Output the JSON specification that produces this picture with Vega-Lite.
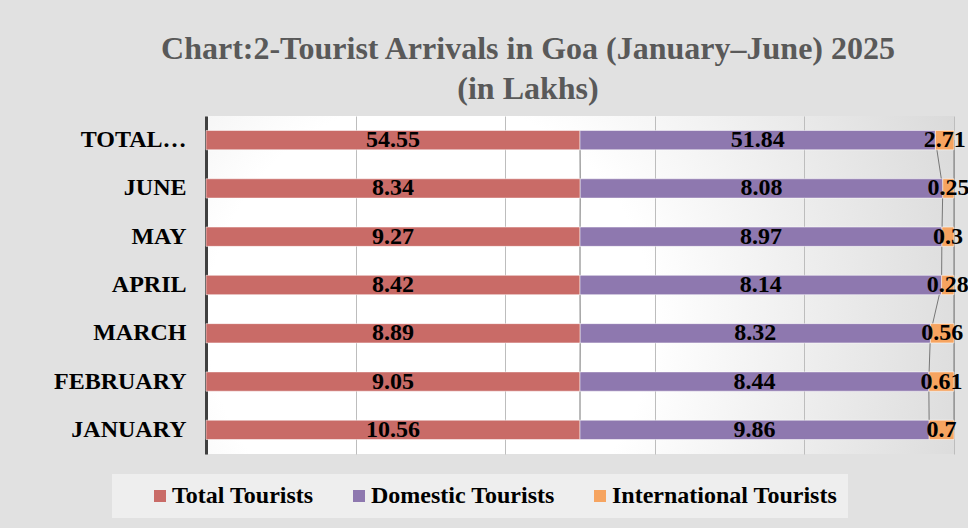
{
  "$schema": "https://vega.github.io/schema/vega-lite/v6.json",
  "autosize": "none",
  "width": 748,
  "height": 338,
  "padding": {"left": 206, "top": 116, "right": 14, "bottom": 74},
  "background": "#e1e1e1",
  "title": {
    "text": ["Chart:2-Tourist Arrivals in Goa (January–June) 2025", "(in Lakhs)"],
    "font": "Liberation Serif",
    "fontSize": 32,
    "fontWeight": "bold",
    "color": "#595959",
    "lineHeight": 40,
    "anchor": "middle",
    "dx": -52,
    "offset": 10
  },
  "config": {
    "font": "Liberation Serif",
    "view": {
      "stroke": null,
      "fill": {
        "gradient": "radial",
        "x1": 0.3, "y1": 0.55, "r1": 0,
        "x2": 0.3, "y2": 0.55, "r2": 0.85,
        "stops": [
          {"offset": 0, "color": "#ffffff"},
          {"offset": 0.35, "color": "#ffffff"},
          {"offset": 1, "color": "#d2d2d2"}
        ]
      }
    }
  },
  "data": {
    "values": [
      {"month": "TOTAL", "series": "Total Tourists", "k": 1, "value": 54.55},
      {"month": "TOTAL", "series": "Domestic Tourists", "k": 2, "value": 51.84},
      {"month": "TOTAL", "series": "International Tourists", "k": 3, "value": 2.71},
      {"month": "JUNE", "series": "Total Tourists", "k": 1, "value": 8.34},
      {"month": "JUNE", "series": "Domestic Tourists", "k": 2, "value": 8.08},
      {"month": "JUNE", "series": "International Tourists", "k": 3, "value": 0.25},
      {"month": "MAY", "series": "Total Tourists", "k": 1, "value": 9.27},
      {"month": "MAY", "series": "Domestic Tourists", "k": 2, "value": 8.97},
      {"month": "MAY", "series": "International Tourists", "k": 3, "value": 0.3},
      {"month": "APRIL", "series": "Total Tourists", "k": 1, "value": 8.42},
      {"month": "APRIL", "series": "Domestic Tourists", "k": 2, "value": 8.14},
      {"month": "APRIL", "series": "International Tourists", "k": 3, "value": 0.28},
      {"month": "MARCH", "series": "Total Tourists", "k": 1, "value": 8.89},
      {"month": "MARCH", "series": "Domestic Tourists", "k": 2, "value": 8.32},
      {"month": "MARCH", "series": "International Tourists", "k": 3, "value": 0.56},
      {"month": "FEBRUARY", "series": "Total Tourists", "k": 1, "value": 9.05},
      {"month": "FEBRUARY", "series": "Domestic Tourists", "k": 2, "value": 8.44},
      {"month": "FEBRUARY", "series": "International Tourists", "k": 3, "value": 0.61},
      {"month": "JANUARY", "series": "Total Tourists", "k": 1, "value": 10.56},
      {"month": "JANUARY", "series": "Domestic Tourists", "k": 2, "value": 9.86},
      {"month": "JANUARY", "series": "International Tourists", "k": 3, "value": 0.7}
    ]
  },
  "encoding": {
    "y": {
      "field": "month",
      "type": "nominal",
      "sort": ["TOTAL", "JUNE", "MAY", "APRIL", "MARCH", "FEBRUARY", "JANUARY"],
      "scale": {"paddingInner": 0.6, "paddingOuter": 0.3},
      "axis": {
        "title": null,
        "ticks": false,
        "grid": false,
        "domainColor": "#404040",
        "domainWidth": 3,
        "labelFont": "Liberation Serif",
        "labelFontWeight": "bold",
        "labelFontSize": 24,
        "labelColor": "#000000",
        "labelPadding": 20,
        "labelLimit": 250,
        "labelExpr": "datum.value == 'TOTAL' ? 'TOTAL…' : datum.value"
      }
    }
  },
  "layer": [
    {
      "mark": {"type": "line", "color": "#767676", "strokeWidth": 1},
      "encoding": {
        "x": {"field": "value", "type": "quantitative", "stack": "normalize"},
        "detail": {"field": "k", "type": "ordinal"}
      }
    },
    {
      "mark": {"type": "bar", "stroke": "#ffffff", "strokeOpacity": 0.5, "strokeWidth": 1},
      "encoding": {
        "x": {
          "field": "value",
          "type": "quantitative",
          "stack": "normalize",
          "scale": {"domain": [0, 1], "nice": false},
          "axis": {
            "title": null,
            "values": [0, 0.2, 0.4, 0.6, 0.8, 1],
            "labels": false,
            "ticks": false,
            "domain": false,
            "grid": true,
            "gridColor": "#bdbdbd",
            "gridWidth": 1
          }
        },
        "color": {
          "field": "series",
          "type": "nominal",
          "scale": {
            "domain": ["Total Tourists", "Domestic Tourists", "International Tourists"],
            "range": ["#C96B67", "#8E78AF", "#F6A460"]
          },
          "legend": {
            "orient": "none",
            "legendX": -94,
            "legendY": 358,
            "direction": "horizontal",
            "title": null,
            "fillColor": "#eeeeee",
            "padding": 10,
            "symbolOffset": 26,
            "columnPadding": 7,
            "symbolType": "square",
            "symbolSize": 144,
            "symbolStrokeWidth": 0,
            "labelOffset": 0,
            "labelFont": "Liberation Serif",
            "labelFontWeight": "bold",
            "labelFontSize": 24,
            "labelColor": "#000000",
            "labelLimit": 300
          }
        },
        "order": {"field": "k", "type": "quantitative"}
      }
    },
    {
      "mark": {
        "type": "text",
        "font": "Liberation Serif",
        "fontWeight": "bold",
        "fontSize": 24,
        "color": "#000000",
        "baseline": "middle",
        "align": "center"
      },
      "encoding": {
        "x": {"field": "value", "type": "quantitative", "stack": "normalize", "bandPosition": 0.5},
        "detail": {"field": "k", "type": "ordinal"},
        "order": {"field": "k", "type": "quantitative"},
        "text": {"field": "value", "type": "quantitative"}
      }
    }
  ]
}
